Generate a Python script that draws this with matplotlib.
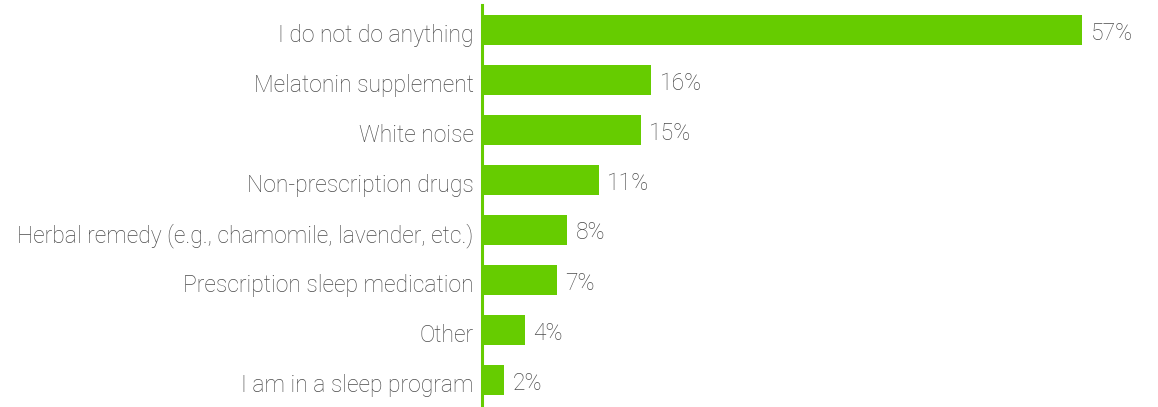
import matplotlib.pyplot as plt
import matplotlib.transforms as mtransforms

categories = [
    "I do not do anything",
    "Melatonin supplement",
    "White noise",
    "Non-prescription drugs",
    "Herbal remedy (e.g., chamomile, lavender, etc.)",
    "Prescription sleep medication",
    "Other",
    "I am in a sleep program",
]
values = [57, 16, 15, 11, 8, 7, 4, 2]

green = "#66cc00"
text_color = "#4a4a4a"

plt.rcParams["font.family"] = ["Roboto", "DejaVu Sans"]

fig = plt.figure(figsize=(11.58, 4.07), dpi=100)
ax = fig.add_axes([482 / 1158, 2 / 407, 676 / 1158, 400 / 407])

y = range(len(categories))
ax.barh(y, values, height=0.6, color=green, left=0.1)

for i, v in enumerate(values):
    ax.text(v + 0.1 + 0.8, i + 0.06, "{}%".format(v), va="center", ha="left",
            fontsize=16.5, color=text_color, fontweight="light")

ax.set_yticks(list(y))
ax.set_yticklabels(categories, fontsize=16.5, color=text_color, fontweight="light")
ax.tick_params(axis="y", length=0, pad=6)

# nudge the category labels down a little, as in the original
shift = mtransforms.ScaledTranslation(0, -3 / 100, fig.dpi_scale_trans)
for lbl in ax.get_yticklabels():
    lbl.set_transform(lbl.get_transform() + shift)

ax.set_ylim(len(categories) - 0.5, -0.5)
ax.set_xlim(0, 64.3)
ax.set_xticks([])

for side in ["top", "right", "bottom"]:
    ax.spines[side].set_visible(False)
ax.spines["left"].set_color(green)
ax.spines["left"].set_linewidth(2.2)

fig.savefig("out.png", dpi=100)
